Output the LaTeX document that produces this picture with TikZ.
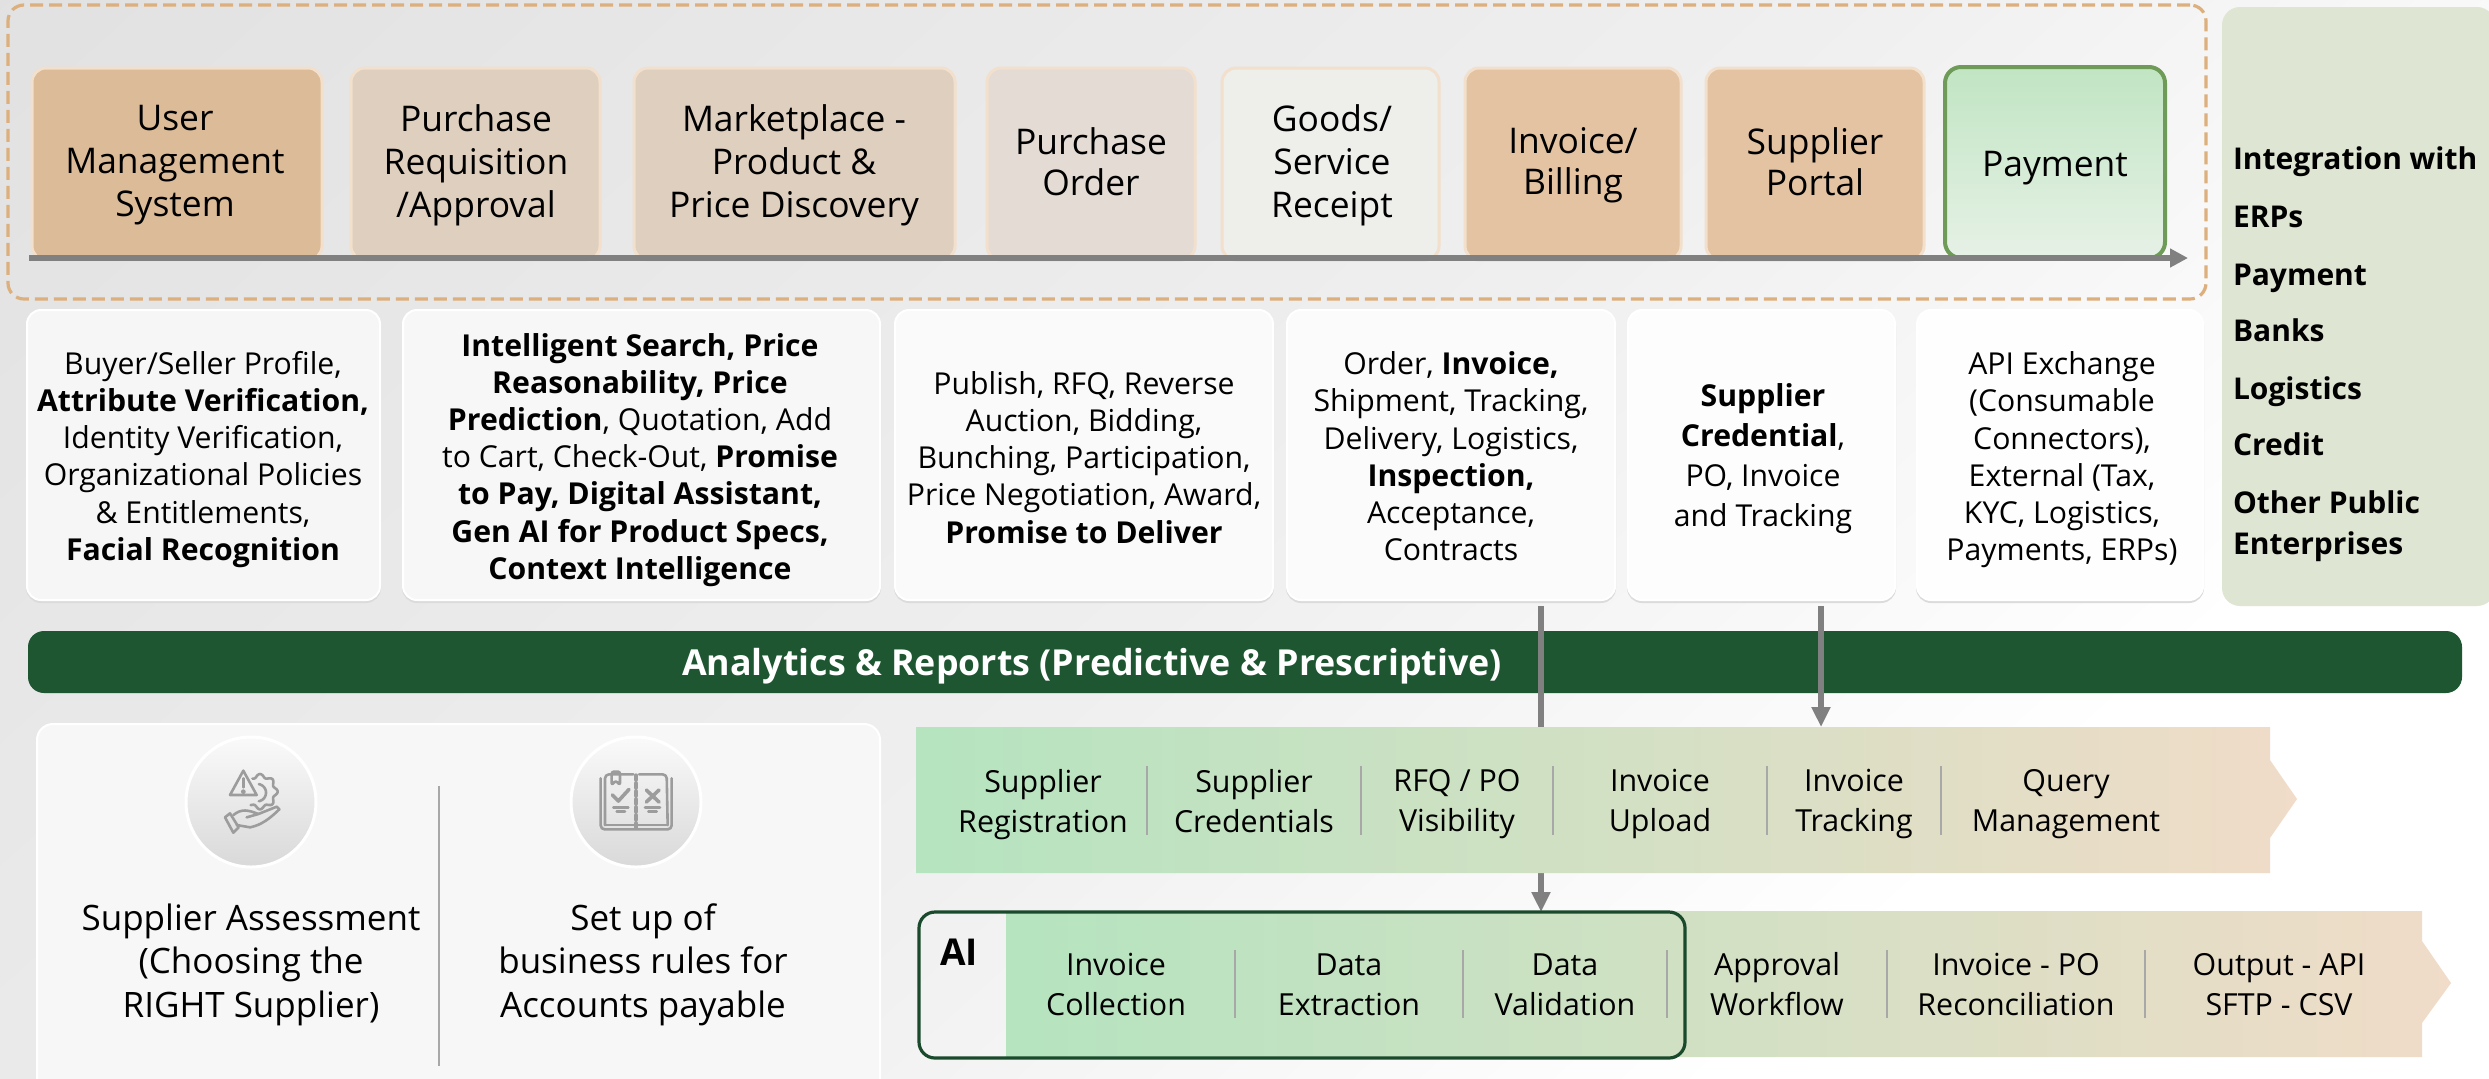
\documentclass[tikz,border=0pt]{standalone}
\usepackage{fontspec}
\setmainfont{Open Sans}
\usetikzlibrary{fit,arrows.meta}
\definecolor{bgM}{HTML}{EFEFEF}
\definecolor{bgD}{HTML}{CECECE}
\pgfdeclareverticalshading{bgshade}{100bp}{color(0bp)=(white);color(38bp)=(white);color(50bp)=(bgM);color(100bp)=(bgD)}
\definecolor{barG}{HTML}{1D5630}
\definecolor{aiG}{HTML}{1A4A2C}
\definecolor{dashC}{HTML}{DCAF7C}
\definecolor{peach}{HTML}{F2DFCC}
\definecolor{lineG}{HTML}{808080}
\definecolor{sepG}{HTML}{A8A8A8}
\definecolor{chevL}{HTML}{B5E4BF}
\definecolor{chevM}{HTML}{D4DFC2}
\definecolor{chevR}{HTML}{F0DCC8}
\definecolor{iconG}{HTML}{9C9C9C}
\definecolor{boxA}{HTML}{DCBC98}
\definecolor{boxB}{HTML}{DFCFBE}
\definecolor{boxC}{HTML}{E3DBD4}
\definecolor{boxD}{HTML}{EEEEEB}
\definecolor{boxE}{HTML}{E3C3A2}
\definecolor{payT}{HTML}{C1E5C3}
\definecolor{payB}{HTML}{E6F1E6}
\definecolor{payL}{HTML}{6F9B58}
\definecolor{panelC}{HTML}{DFE5D3}
\definecolor{cardA}{HTML}{F6F6F6}
\definecolor{cardB}{HTML}{F7F7F7}
\definecolor{cardC}{HTML}{FAFAFA}
\definecolor{cardD}{HTML}{FBFBFB}
\definecolor{cardE}{HTML}{FDFDFD}
\definecolor{cardF}{HTML}{FEFEFE}
\tikzset{
  px/.style={x=0.5pt,y=-0.5pt},
  base/.style={inner sep=0pt,outer sep=0pt,align=center,text=black},
  label/.style={base,yshift=-2.4pt,execute at begin node=\strut,execute at end node=\strut},
  topbox/.style={base,rounded corners=7pt,fill=#1,draw=peach,line width=1.5pt},
  toptext/.style={label,font=\fontsize{17.7}{21.5}\selectfont},
  toptwo/.style={label,font=\fontsize{17.7}{20.5}\selectfont},
  card/.style={base,rounded corners=7pt,fill=#1,draw=white,line width=1pt,
     preaction={fill=black!14,draw=black!14,transform canvas={yshift=-1pt}}},
  cardtext/.style={label,font=\fontsize{15.1}{18.6}\selectfont},
  cardloose/.style={label,font=\fontsize{15.1}{20}\selectfont},
  panelitem/.style={label,anchor=west,font=\bfseries\fontsize{15}{18}\selectfont},
  lowtext/.style={label,font=\fontsize{17.5}{21.7}\selectfont},
  steptext/.style={label,font=\fontsize{15.2}{20}\selectfont},
  sepline/.style={draw=sepG,line width=1pt},
  conn/.style={draw=lineG,line width=2.6pt,-{Triangle[width=9pt,length=10pt]}},
  iconline/.style={draw=iconG,line width=1.3pt,line join=round,line cap=round},
  iconball/.style={base,circle,minimum size=65pt,draw=white,line width=1.5pt,top color=white!98!black,bottom color=black!15},
}
\begin{document}
\begin{tikzpicture}[px]
\useasboundingbox (0,0) rectangle (2489,1078);
% background
\begin{scope}
\clip (0,0) rectangle (2489,1078);
\shade[shading=bgshade,shading angle=42] (-255,-961) rectangle (2745,2039);
\end{scope}
% process frame
\node[base,fit={(8,5)(2206,299)},rounded corners=8pt,draw=dashC,line width=1.6pt,dash pattern=on 6.5pt off 3pt] (frame) {};
% top boxes
\node[topbox=boxA,fit={(32,68)(322,260)}] (b1) {};
\node[topbox=boxB,fit={(351,68)(600,260)}] (b2) {};
\node[topbox=boxB,fit={(634,68)(955,260)}] (b3) {};
\node[topbox=boxC,fit={(987,68)(1195,260)}] (b4) {};
\node[topbox=boxD,fit={(1222,68)(1439,260)}] (b5) {};
\node[topbox=boxE,fit={(1465,68)(1681,260)}] (b6) {};
\node[topbox=boxE,fit={(1706,68)(1924,260)}] (b7) {};
\node[base,fit={(1945,67)(2165,258)},rounded corners=8pt,top color=payT,bottom color=payB,draw=payL,line width=2pt] (b8) {};
\node[toptext] at (175,163) (t1) {User\\Management\\System};
\node[toptext] at (476,163) (t2) {Purchase\\Requisition\\/Approval};
\node[toptext] at (794,163) (t3) {Marketplace -\\Product \&\\Price Discovery};
\node[toptwo] at (1091,162.5) (t4) {Purchase\\Order};
\node[toptext] at (1332,163) (t5) {Goods/\\Service\\Receipt};
\node[toptwo] at (1573,162.5) (t6) {Invoice/\\Billing};
\node[toptwo] at (1815,162.5) (t7) {Supplier\\Portal};
\node[toptext] at (2055,163) (t8) {Payment};
% process arrow
\coordinate (pstart) at (29,258);
\coordinate (pend) at (2188,258);
\draw[draw=lineG,line width=3pt,-{Triangle[width=9pt,length=9pt]}] (pstart) -- (pend);
% cards
\node[card=cardA,fit={(27,310)(380,600)}] (c1) {};
\node[card=cardB,fit={(403,310)(880,600)}] (c2) {};
\node[card=cardC,fit={(895,310)(1273,600)}] (c3) {};
\node[card=cardD,fit={(1287,310)(1615,600)}] (c4) {};
\node[card=cardE,fit={(1628,310)(1895,600)}] (c5) {};
\node[card=cardF,fit={(1917,310)(2203,600)}] (c6) {};
\node[cardtext] at (203,456.5) (ct1) {Buyer/Seller Profile,\\\textbf{Attribute Verification,}\\Identity Verification,\\Organizational Policies\\\& Entitlements,\\\textbf{Facial Recognition}};
\node[cardtext] at (640,457) (ct2) {\textbf{Intelligent Search, Price}\\\textbf{Reasonability, Price}\\\textbf{Prediction}, Quotation, Add\\to Cart, Check-Out, \textbf{Promise}\\\textbf{to Pay, Digital Assistant,}\\\textbf{Gen AI for Product Specs,}\\\textbf{Context Intelligence}};
\node[cardtext] at (1084,458) (ct3) {Publish, RFQ, Reverse\\Auction, Bidding,\\Bunching, Participation,\\Price Negotiation, Award,\\\textbf{Promise to Deliver}};
\node[cardtext] at (1451,457) (ct4) {Order, \textbf{Invoice,}\\Shipment, Tracking,\\Delivery, Logistics,\\\textbf{Inspection,}\\Acceptance,\\Contracts};
\node[cardloose] at (1763,456) (ct5) {\textbf{Supplier}\\\textbf{Credential},\\PO, Invoice\\and Tracking};
\node[cardtext] at (2062,457) (ct6) {API Exchange\\(Consumable\\Connectors),\\External (Tax,\\KYC, Logistics,\\Payments, ERPs)};
% integration panel
\node[base,fit={(2222,7)(2495,606)},rounded corners=9pt,fill=panelC] (panel) {};
\node[panelitem] at (2233,157) (p1) {Integration with};
\node[panelitem] at (2233,215) (p2) {ERPs};
\node[panelitem] at (2233,273) (p3) {Payment};
\node[panelitem] at (2233,329) (p4) {Banks};
\node[panelitem] at (2233,387) (p5) {Logistics};
\node[panelitem] at (2233,443) (p6) {Credit};
\node[panelitem] at (2233,501) (p7) {Other Public};
\node[panelitem] at (2233,542) (p8) {Enterprises};
% analytics bar
\node[base,fit={(28,631)(2462,693)},rounded corners=8pt,fill=barG] (bar) {};
\node[label,text=white,font=\bfseries\fontsize{17.9}{20}\selectfont] at (1092,663) (bart) {Analytics \& Reports (Predictive \& Prescriptive)};
% lower-left card
\node[base,fit={(37,724)(880,1095)},rounded corners=8pt,fill=cardB,draw=white,line width=1pt] (lc) {};
\draw[draw=sepG,line width=1pt] (439,786) -- (439,1066);
\node[iconball] at (251,802) (ball1) {};
\node[iconball] at (636,802) (ball2) {};
\node[lowtext] at (251,962) (l1) {Supplier Assessment\\(Choosing the\\RIGHT Supplier)};
\node[lowtext] at (643,962) (l2) {Set up of\\business rules for\\Accounts payable};
% icon 1
\begin{scope}[shift={(180,730)},x=0.16667pt,y=-0.16667pt,iconline]
\draw (190,122) -- (150,195) -- (230,195) -- cycle;
\draw (190,145) -- (190,172);
\fill[iconG] (190,185) circle (1.2pt);
\draw plot[domain=-125:120,samples=100,smooth] ({240+(48+5*cos(8*\x))*cos(\x)},{185-(48+5*cos(8*\x))*sin(\x)});
\draw plot[domain=-80:80,samples=30,smooth] ({232+26*cos(\x)},{188-26*sin(\x)});
\draw (160,255) .. controls (185,235) and (205,240) .. (235,252) -- (200,262);
\draw (235,252) -- (290,230) -- (298,238) .. controls (270,265) and (245,285) .. (210,292) -- (170,285);
\draw (135,262) -- (150,250) -- (176,292) -- (160,308) -- cycle;
\end{scope}
% icon 2
\begin{scope}[shift={(565,730)},x=0.16667pt,y=-0.16667pt,iconline]
\draw[rounded corners=2pt] (107,145) -- (107,298) -- (320,298) -- (320,145);
\draw[rounded corners=2pt] (120,285) -- (120,133) -- (205,133);
\draw[rounded corners=2pt] (222,133) -- (305,133) -- (308,285);
\draw (120,285) -- (308,285);
\draw[rounded corners=1pt] (140,165) -- (140,125) -- (165,125) -- (165,165) -- (152,152) -- cycle;
\draw[line width=1.7pt,dash pattern=on 2.5pt off 1.5pt] (213,135) -- (213,298);
\draw[line width=1.8pt] (142,195) -- (160,213) -- (192,178);
\draw[line width=1.8pt] (244,180) -- (282,216) (282,180) -- (244,216);
\draw (145,232) -- (190,232) (155,245) -- (180,245);
\draw (240,232) -- (285,232) (250,245) -- (275,245);
\end{scope}
% connectors
\coordinate (a1) at (1541,606);
\coordinate (a2) at (1821,606);
\node[base,fit={(916,727)(2270,873)}] (chev1) {};
\node[base,fit={(919,912)(1685,1058)}] (ai) {};
\draw[conn] (a1) -- (a1 |- ai.north);
\draw[conn] (a2) -- (a2 |- chev1.north);
% chevron 1
\shade[left color=chevL,middle color=chevM,right color=chevR]
  (916,727) -- (2270,727) -- (2270,760) -- (2297,799) -- (2270,838) -- (2270,873) -- (916,873) -- cycle;
\foreach \s in {1147,1361,1553,1767,1941} \draw[sepline] (\s,766) -- (\s,835);
\node[steptext] at (1043,802) (s1) {Supplier\\Registration};
\node[steptext] at (1254,802) (s2) {Supplier\\Credentials};
\node[steptext] at (1457,802) (s3) {RFQ / PO\\Visibility};
\node[steptext] at (1660,802) (s4) {Invoice\\Upload};
\node[steptext] at (1854,802) (s5) {Invoice\\Tracking};
\node[steptext] at (2066,802) (s6) {Query\\Management};
% chevron 2
\shade[left color=chevL,middle color=chevM,right color=chevR]
  (1006,911) -- (2422,911) -- (2422,941) -- (2451,983) -- (2422,1023) -- (2422,1057) -- (1006,1057) -- cycle;
\foreach \s in {1235,1463,1667,1887,2145} \draw[sepline] (\s,950) -- (\s,1018);
\draw[draw=aiG,line width=1.6pt,rounded corners=8pt] (ai.south west) rectangle (ai.north east);
\node[label,font=\bfseries\fontsize{18.5}{22}\selectfont] at (959,952) (ailab) {AI};
\node[steptext] at (1116,985.5) (d1) {Invoice\\Collection};
\node[steptext] at (1349,985.5) (d2) {Data\\Extraction};
\node[steptext] at (1565,985.5) (d3) {Data\\Validation};
\node[steptext] at (1777,985.5) (d4) {Approval\\Workflow};
\node[steptext] at (2016,985.5) (d5) {Invoice - PO\\Reconciliation};
\node[steptext] at (2279,985.5) (d6) {Output - API\\SFTP - CSV};
\end{tikzpicture}
\end{document}
